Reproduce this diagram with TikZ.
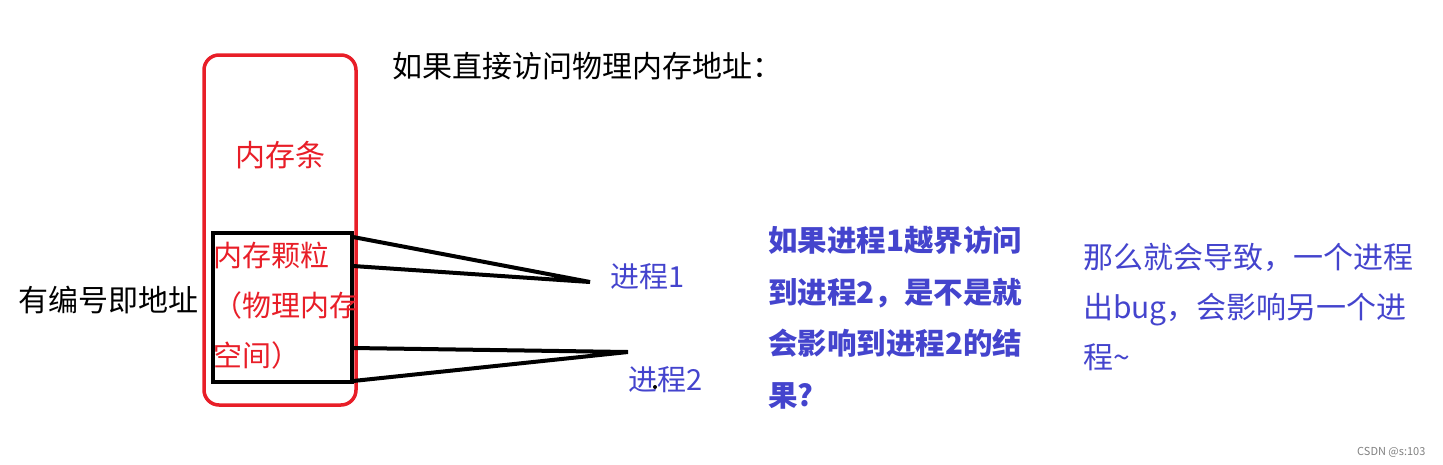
\documentclass[tikz,border=0pt]{standalone}
\usepackage{fontspec}
\setmainfont{Noto Sans CJK SC}
\newfontfamily\cjk{Noto Sans CJK SC}
\usepackage{tikz}
\usetikzlibrary{positioning}
\definecolor{memred}{RGB}{232,30,40}
\definecolor{procblue}{RGB}{68,68,205}

\tikzset{
	txt/.style={inner sep=0pt,anchor=base west,align=left,font=\cjk\fontsize{30}{50}\selectfont},
	wire/.style={line width=4pt,line cap=round}
}

\begin{document}
\begin{tikzpicture}[x=1pt,y=-1pt]
	\useasboundingbox (0,0) rectangle (1443,464);
	% the memory stick and the chip
	\draw[memred,line width=3.5pt,rounded corners=15pt] (204,55) rectangle (356,405);
	\node[txt,memred,anchor=base] (stick) at (280,166) {内存条};
	\draw[line width=4pt] (213,233) rectangle (352,382);
	% multi-line nodes sit on the baseline of their last line
	\node[txt,memred,font=\cjk\fontsize{29}{50}\selectfont] (chip) at (213,366) {内存颗粒\\（物理内存\\空间）};
	%% the labels
	\node[txt] (addr) at (18,311) {有编号即地址};
	\node[txt] (title) at (392,77) {如果直接访问物理内存地址：};
	\node[txt,procblue,font=\cjk\fontsize{29}{50}\selectfont] (p1) at (610,287) {进程1};
	\node[txt,procblue,font=\cjk\fontsize{29}{50}\selectfont] (p2) at (628,390) {进程2};
	\node[txt,procblue,font=\cjk\bfseries\fontsize{29.5}{51.5}\selectfont] (ask) at (768,406) {如果进程1越界访问\\到进程2，是不是就\\会影响到进程2的结\\果?};
	\node[txt,procblue] (then) at (1083,368) {那么就会导致，一个进程\\出bug，会影响另一个进\\程\textasciitilde};
	\node[txt,gray,font=\cjk\fontsize{11}{13}\selectfont] (mark) at (1357,455) {CSDN @s:103};
	% the wires from the chip to the processes
	\coordinate (a1) at (353,237);
	\coordinate (a2) at (353,266);
	\coordinate (b1) at (353,348);
	\coordinate (b2) at (353,381);
	\coordinate (t1) at (590,282);
	\coordinate (t2) at (628,352);
	\draw[wire] (a1) -- (t1) -- (a2);
	\draw[wire] (b1) -- (t2) -- (b2);
	\fill (655,387) circle (2pt);
\end{tikzpicture}
\end{document}
